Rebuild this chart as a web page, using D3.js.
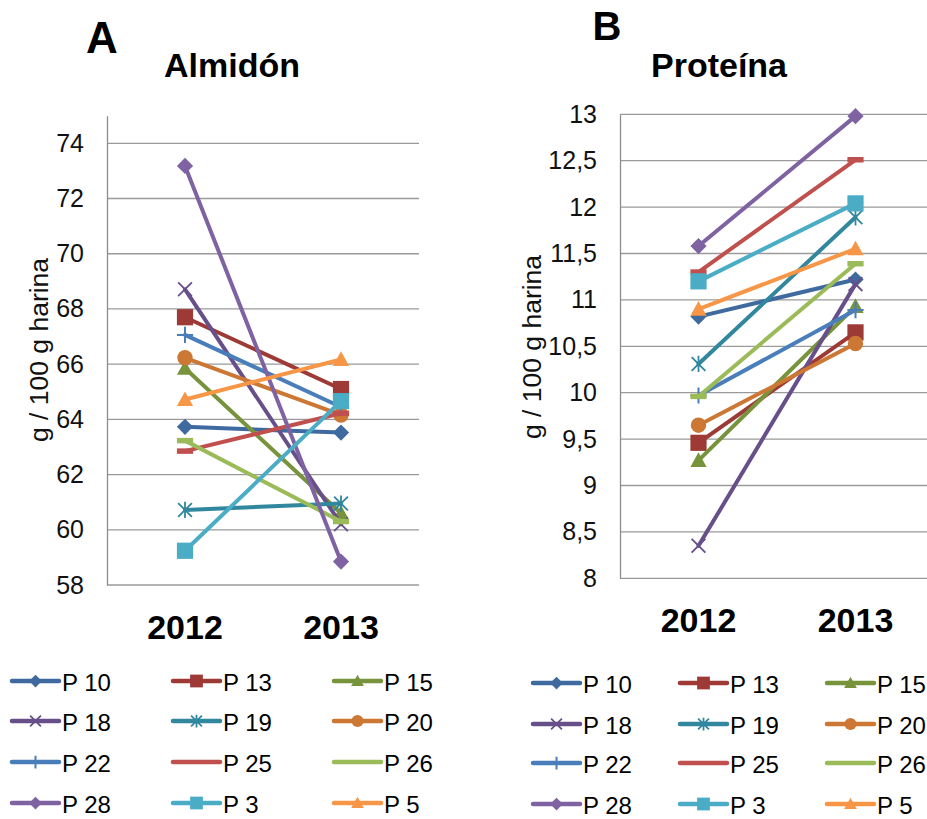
<!DOCTYPE html>
<html>
<head>
<meta charset="utf-8">
<script src="https://cdn.jsdelivr.net/npm/d3@7"></script>
<style>
  body { margin: 0; background: #fff; }
  svg text { font-family: "Liberation Sans", Arial, sans-serif; }
</style>
</head>
<body>
<svg id="chart" width="927" height="819"></svg>
<script>
// categories and series
var years = ["2012", "2013"];
var series = ["P 10", "P 13", "P 15", "P 18", "P 19", "P 20", "P 22", "P 25", "P 26", "P 28", "P 3", "P 5"];

// Almidon (g / 100 g harina)
var almidon2012 = [63.73, 67.70, 65.85, 68.71, 60.72, 66.23, 67.06, 62.85, 63.23, 73.18, 59.24, 64.72];
var almidon2013 = [63.52, 65.10, 60.60, 60.20, 60.95, 64.16, 64.45, 64.22, 60.30, 58.85, 64.66, 66.17];

// Proteina (g / 100 g harina)
var proteina2012 = [10.82, 9.46, 9.27, 8.35, 10.31, 9.65, 9.97, 11.30, 9.96, 11.58, 11.20, 10.90];
var proteina2013 = [11.22, 10.65, 10.93, 11.17, 11.89, 10.53, 10.89, 12.51, 11.39, 12.98, 12.04, 11.55];

// axis ticks
var almidonTicks = [58, 60, 62, 64, 66, 68, 70, 72, 74];
var proteinaTicks = [8, 8.5, 9, 9.5, 10, 10.5, 11, 11.5, 12, 12.5, 13];

var colors = ["#3F6AA0", "#9D3A36", "#77933C", "#674F8A", "#31879E", "#CC7733",
              "#4A7EBB", "#C0504D", "#9BBB59", "#7F62A2", "#4BACC6", "#F79646"];
var markers = ["diamond", "square", "triangle", "x", "star", "circle",
               "plus", "dash", "dash", "diamond", "square", "triangle"];

var svg = d3.select("#chart");

function drawMarker(g, type, color, k){
	// k scales the marker (legend markers are a bit smaller)
	var s = 7.5 * k;
	if (type == "diamond") {
		g.append("path").attr("d", "M0," + (-s) + "L" + s + ",0L0," + s + "L" + (-s) + ",0Z").attr("fill", color);
	} else if (type == "square") {
		g.append("rect").attr("x", -s).attr("y", -s).attr("width", 2*s).attr("height", 2*s).attr("fill", color);
	} else if (type == "triangle") {
		g.append("path").attr("d", "M0," + (-s) + "L" + s + "," + (s*0.8) + "L" + (-s) + "," + (s*0.8) + "Z").attr("fill", color);
	} else if (type == "circle") {
		g.append("circle").attr("r", s*0.95).attr("fill", color);
	} else if (type == "x" || type == "star") {
		var d = s*0.85;
		var p = "M" + (-d) + "," + (-d) + "L" + d + "," + d + "M" + (-d) + "," + d + "L" + d + "," + (-d);
		if (type == "star") p += "M0," + (-s) + "L0," + s;
		g.append("path").attr("d", p).attr("stroke", color).attr("stroke-width", 1.8).attr("fill", "none");
	} else if (type == "plus") {
		g.append("path").attr("d", "M" + (-s) + ",0L" + s + ",0M0," + (-s) + "L0," + s)
			.attr("stroke", color).attr("stroke-width", 2).attr("fill", "none");
	} else if (type == "dash") {
		g.append("path").attr("d", "M" + (-s) + ",0L" + s + ",0")
			.attr("stroke", color).attr("stroke-width", 5.5).attr("fill", "none");
	}
}

function drawPanel(cfg){
	var plot = svg.append("g");

	var xScale = d3.scaleBand().domain(years).range([cfg.left, cfg.right]);
	var yScale = d3.scaleLinear().domain(cfg.domain).range([cfg.bottom, cfg.top]);

	// horizontal gridlines
	plot.append("g").selectAll("line").data(cfg.ticks).enter().append("line")
		.attr("x1", cfg.left).attr("x2", cfg.right)
		.attr("y1", function(d){return yScale(d)}).attr("y2", function(d){return yScale(d)})
		.attr("stroke", "#9a9a9a").attr("stroke-width", 1.3);

	// y axis
	var yAxis = d3.axisLeft(yScale).tickValues(cfg.ticks).tickSize(0).tickPadding(23)
		.tickFormat(function(d){return String(d).replace(".", ",")});
	var ya = plot.append("g").attr("transform", "translate(" + cfg.left + ",0)").call(yAxis);
	ya.select(".domain").attr("stroke", "#8c8c8c").attr("stroke-width", 1.3);
	ya.selectAll("text").attr("font-size", 25).attr("fill", "#111")
		.style("font-family", "'Liberation Sans', Arial, sans-serif");

	// x axis labels
	var xAxis = d3.axisBottom(xScale).tickSize(0).tickPadding(30);
	var xa = plot.append("g").attr("transform", "translate(0," + cfg.bottom + ")").call(xAxis);
	xa.select(".domain").remove();
	xa.selectAll("text").attr("font-size", 34).attr("font-weight", "bold").attr("fill", "#000")
		.style("font-family", "'Liberation Sans', Arial, sans-serif");

	// axis title
	plot.append("text")
		.attr("transform", "translate(" + cfg.titleX + "," + cfg.titleY + ") rotate(-90)")
		.attr("text-anchor", "middle").attr("dominant-baseline", "central")
		.attr("font-size", 26.5).attr("fill", "#111")
		.text("g / 100 g harina");

	// panel letter and title
	plot.append("text").attr("x", cfg.letterX).attr("y", cfg.letterY).attr("text-anchor", "middle")
		.attr("font-size", cfg.letterSize).attr("font-weight", "bold").text(cfg.letter);
	plot.append("text").attr("x", cfg.headX).attr("y", 77).attr("text-anchor", "middle")
		.attr("font-size", 34).attr("font-weight", "bold").text(cfg.head);

	// series
	var line = d3.line()
		.x(function(d){return xScale(d.year) + xScale.bandwidth()/2})
		.y(function(d){return yScale(d.value)});

	series.forEach(function(name, i){
		var pts = [{year: years[0], value: cfg.v2012[i]}, {year: years[1], value: cfg.v2013[i]}];
		var sg = plot.append("g");
		sg.append("path").datum(pts).attr("d", line)
			.attr("fill", "none").attr("stroke", colors[i]).attr("stroke-width", 4)
			.attr("stroke-linecap", "round");
		pts.forEach(function(p){
			var mg = sg.append("g").attr("transform", "translate(" + (xScale(p.year) + xScale.bandwidth()/2) + "," + yScale(p.value) + ")");
			drawMarker(mg, markers[i], colors[i], 1.08);
		});
	});

	// legend, 3 columns
	series.forEach(function(name, i){
		var col = i % 3, row = Math.floor(i / 3);
		var lx = cfg.legCols[col], ly = cfg.legRows[row];
		var lg = plot.append("g").attr("transform", "translate(" + lx + "," + ly + ")");
		lg.append("line").attr("x1", 0).attr("x2", 47).attr("y1", 0).attr("y2", 0)
			.attr("stroke", colors[i]).attr("stroke-width", 4.5).attr("stroke-linecap", "round");
		if (markers[i] != "dash") {
			var mg = lg.append("g").attr("transform", "translate(23.5,0)");
			drawMarker(mg, markers[i], colors[i], 0.85);
		}
		lg.append("text").attr("x", 50).attr("y", 1).attr("dominant-baseline", "central")
			.attr("font-size", 24).attr("fill", "#000").text(name);
	});
}

drawPanel({
	left: 107, right: 419, top: 115.7, bottom: 585, domain: [58, 75], ticks: almidonTicks,
	v2012: almidon2012, v2013: almidon2013,
	titleX: 39, titleY: 350,
	letter: "A", letterX: 102, letterY: 53, letterSize: 44,
	head: "Almidón", headX: 232,
	legCols: [12, 173, 334], legRows: [681, 721, 762, 803]
});

drawPanel({
	left: 620, right: 934, top: 114.3, bottom: 578.3, domain: [8, 13], ticks: proteinaTicks,
	v2012: proteina2012, v2013: proteina2013,
	titleX: 532, titleY: 347,
	letter: "B", letterX: 607, letterY: 40, letterSize: 40,
	head: "Proteína", headX: 719,
	legCols: [533, 680, 827], legRows: [683, 724, 763, 804]
});
</script>
</body>
</html>
